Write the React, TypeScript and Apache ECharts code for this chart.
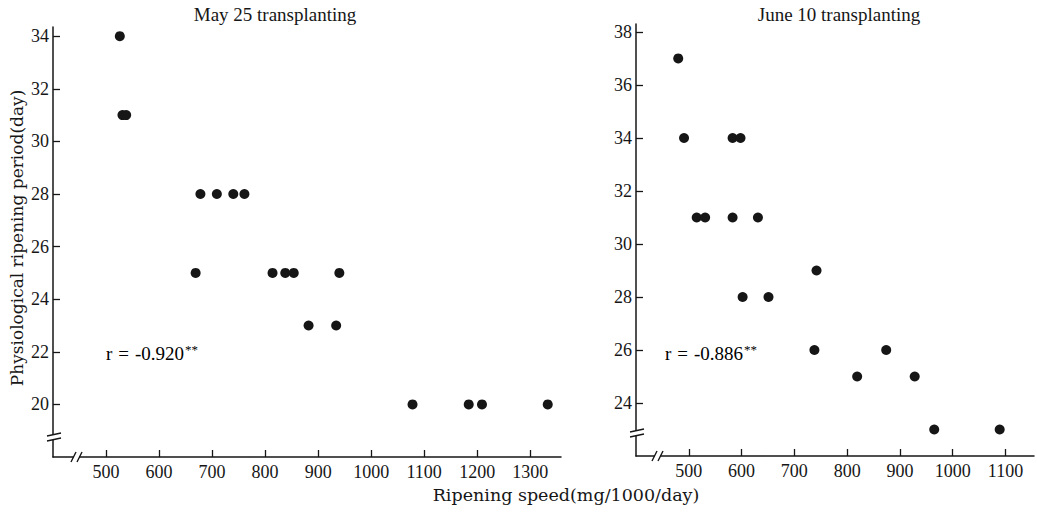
import React, { useEffect, useRef } from "react";
import * as echarts from "echarts";

const mayX = [526, 531, 538, 678, 709, 740, 761, 669, 814, 838, 854, 940, 882, 934, 1078, 1184, 1209, 1333];
const mayY = [34, 31, 31, 28, 28, 28, 28, 25, 25, 25, 25, 25, 23, 23, 20, 20, 20, 20];
const juneX = [480, 491, 583, 598, 515, 531, 583, 631, 602, 651, 742, 738, 819, 874, 928, 965, 1089];
const juneY = [37, 34, 34, 34, 31, 31, 31, 31, 28, 28, 29, 26, 25, 26, 25, 23, 23];

const mayXTicks = [500, 600, 700, 800, 900, 1000, 1100, 1200, 1300];
const mayYTicks = [20, 22, 24, 26, 28, 30, 32, 34];
const juneXTicks = [500, 600, 700, 800, 900, 1000, 1100];
const juneYTicks = [24, 26, 28, 30, 32, 34, 36, 38];

const titles = ["May 25 transplanting", "June 10 transplanting"];
const yName = "Physiological ripening period(day)";
const xName = "Ripening speed(mg/1000/day)";
const rValues = ["-0.920", "-0.886"];

const INK = "#161616";
const TICK_FONT = "Liberation Serif";
const TEXT_FONT = "DejaVu Serif";

function axisCfg(grid: number, min: number, max: number, ticks: number[], margin: number) {
  return {
    type: "value",
    gridIndex: grid,
    min,
    max,
    splitLine: { show: false },
    axisLine: { show: true, lineStyle: { color: INK, width: 1.5 } },
    axisTick: { show: true, inside: true, length: 7, customValues: ticks, lineStyle: { color: INK, width: 1.3 } },
    axisLabel: {
      customValues: ticks,
      color: INK,
      fontFamily: TICK_FONT,
      fontSize: 18,
      margin,
      formatter: (v: number) => `{s|${v}}`,
      rich: { s: { fontFamily: TICK_FONT, fontSize: 18, color: INK } },
    },
  };
}

function breakMarks(ax: number, ay: number, yBreakY: number, xBreakX: number) {
  const ls = { stroke: INK, lineWidth: 1.4 };
  return [
    { type: "rect", z: 100, shape: { x: ax - 3, y: yBreakY - 2, width: 6, height: 5 }, style: { fill: "#fff" } },
    { type: "line", z: 101, shape: { x1: ax - 6, y1: yBreakY - 1, x2: ax + 8, y2: yBreakY - 4 }, style: ls },
    { type: "line", z: 101, shape: { x1: ax - 6, y1: yBreakY + 4, x2: ax + 8, y2: yBreakY + 1 }, style: ls },
    { type: "rect", z: 100, shape: { x: xBreakX - 1, y: ay - 3, width: 5, height: 6 }, style: { fill: "#fff" } },
    { type: "line", z: 101, shape: { x1: xBreakX - 4, y1: ay + 5, x2: xBreakX + 1, y2: ay - 5 }, style: ls },
    { type: "line", z: 101, shape: { x1: xBreakX + 2, y1: ay + 5, x2: xBreakX + 7, y2: ay - 5 }, style: ls },
  ];
}

function rLabel(x: number, y: number, val: string) {
  const base = { fontFamily: TICK_FONT, fontSize: 19, color: INK };
  return {
    type: "text", x, y,
    style: {
      text: `{a|r}{e|=}{a|${val}}{b|**}`,
      verticalAlign: "middle",
      rich: {
        a: base,
        e: { ...base, padding: [0, 6, 0, 6] },
        b: { fontFamily: TICK_FONT, fontSize: 13, color: INK, verticalAlign: "top", padding: [0, 0, 7, 1] },
      },
    },
  };
}

export default function App() {
  const ref = useRef<HTMLDivElement>(null);
  useEffect(() => {
    if (!ref.current) return;
    const chart = echarts.init(ref.current, null, { renderer: "svg" });
    const ts = (font: string, size: number) => ({ fill: INK, fontFamily: font, fontSize: size });
    const option = {
      animation: false,
      backgroundColor: "#fff",
      textStyle: { fontFamily: TICK_FONT, color: INK },
      grid: [
        { left: 53, top: 27, width: 508, height: 430 },
        { left: 636, top: 24, width: 398, height: 432 },
      ],
      xAxis: [axisCfg(0, 400, 1358, mayXTicks, 6), axisCfg(1, 400, 1154, juneXTicks, 6)],
      yAxis: [axisCfg(0, 18, 34.35, mayYTicks, 4), axisCfg(1, 22, 38.3, juneYTicks, 4)],
      series: [
        {
          type: "scatter",
          xAxisIndex: 0,
          yAxisIndex: 0,
          symbolSize: 10,
          itemStyle: { color: INK, opacity: 1 },
          data: mayX.map((x, i) => [x, mayY[i]]),
        },
        {
          type: "scatter",
          xAxisIndex: 1,
          yAxisIndex: 1,
          symbolSize: 10,
          itemStyle: { color: INK, opacity: 1 },
          data: juneX.map((x, i) => [x, juneY[i]]),
        },
      ],
      graphic: [
        { type: "text", x: 275, y: 14, style: { ...ts(TICK_FONT, 19), text: titles[0], align: "center", verticalAlign: "middle" } },
        { type: "text", x: 839, y: 14, style: { ...ts(TICK_FONT, 19), text: titles[1], align: "center", verticalAlign: "middle" } },
        { type: "text", x: 17, y: 238, rotation: Math.PI / 2, style: { ...ts(TEXT_FONT, 17), text: yName, align: "center", verticalAlign: "middle" } },
        { type: "text", x: 566, y: 495, style: { ...ts(TEXT_FONT, 17.5), text: xName, align: "center", verticalAlign: "middle" } },
        rLabel(106, 353, rValues[0]),
        rLabel(665, 353, rValues[1]),
        ...breakMarks(53, 457, 437, 75),
        ...breakMarks(636, 456, 433, 656),
      ],
    };
    chart.setOption(option as any);
    return () => chart.dispose();
  }, []);
  return <div ref={ref} style={{ position: "fixed", left: 0, top: 0, width: 1037, height: 513 }} />;
}
